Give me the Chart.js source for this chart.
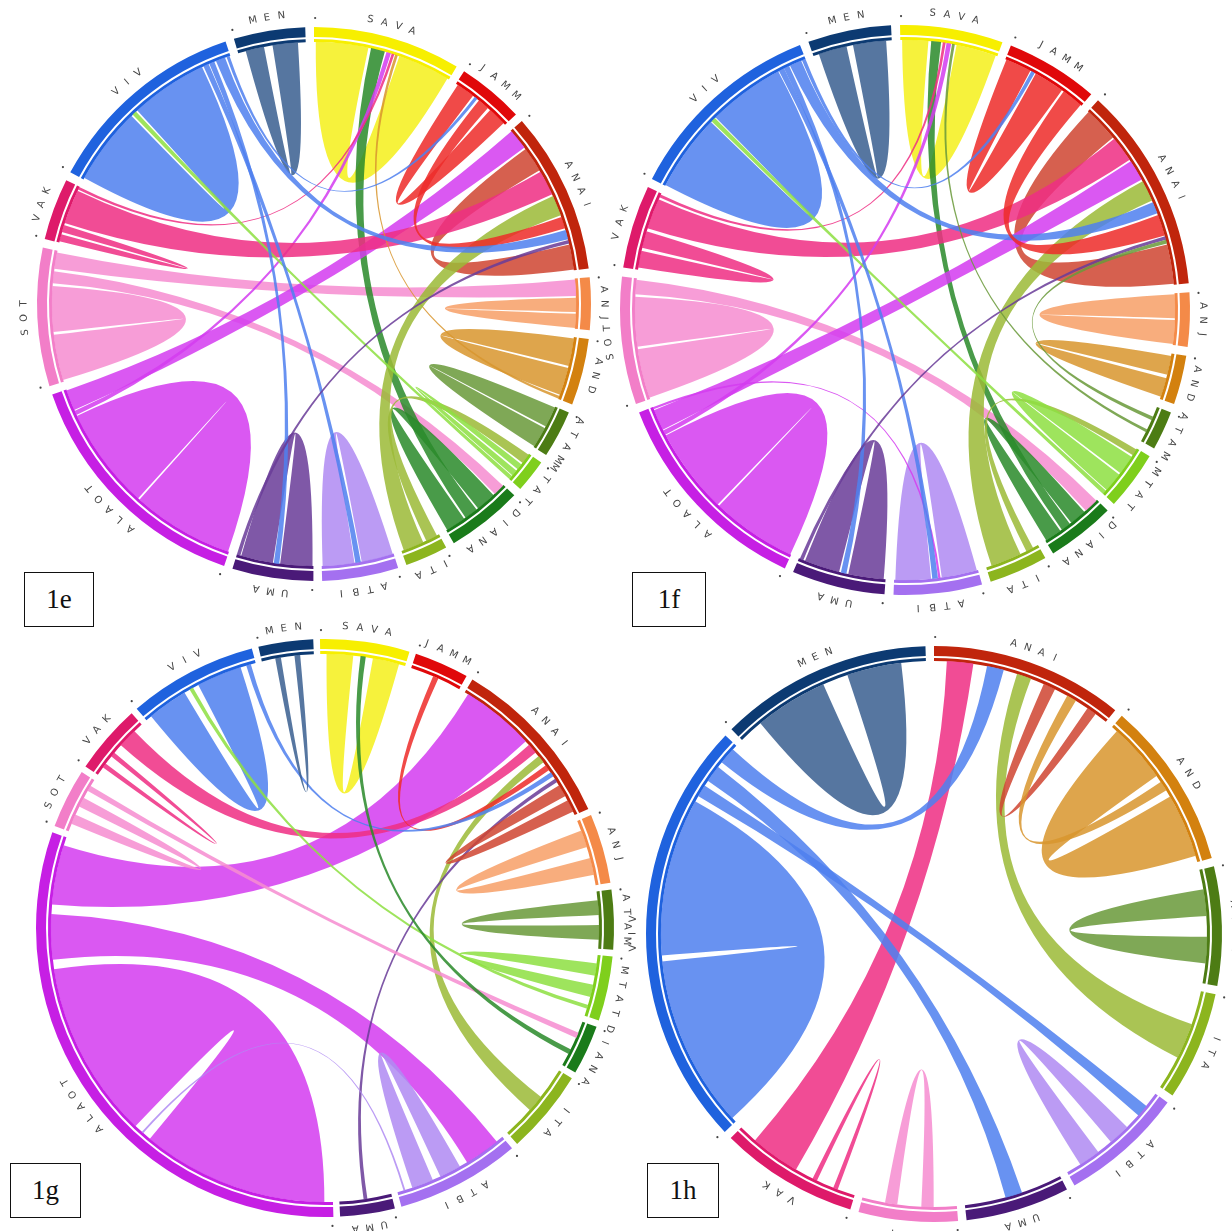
<!DOCTYPE html>
<html>
<head>
<meta charset="utf-8">
<script src="https://cdn.jsdelivr.net/npm/chart.js@4.4.1/dist/chart.umd.min.js"></script>
<style>
  html, body { margin: 0; padding: 0; background: #fff; }
  body { position: relative; width: 1232px; height: 1231px; overflow: hidden; }
  canvas { position: absolute; }
  .tag {
    position: absolute; box-sizing: border-box; border: 1.6px solid #111;
    font-family: "Liberation Serif", "DejaVu Serif", serif; font-size: 27px; color: #111;
    display: flex; align-items: center; justify-content: center; background: #fff;
  }
</style>
</head>
<body>
<script>
// ---- sectors (clockwise), sector widths and links [from, to, value at "from", value at "to"] ----

const sectors_e = ['SAVA','JAMM','ANAI','ANJ','AND','ATAM','MTAT','DIANA','ITA','ATBI','UMA','ALAOT','SOT','VAK','VIV','MEN'];
const widths_e  = [31, 14, 34, 11, 14, 10, 7, 16, 9, 16, 17, 52, 29, 13, 43, 15];
const links_e = [
  ['SAVA','SAVA',12], ['MEN','MEN',6,4.5], ['SOT','SOT',10.5], ['SOT','DIANA',3], ['SOT','ANJ',4],
  ['DIANA','SAVA',3.5], ['DIANA','DIANA',5], ['ALAOT','ALAOT',23], ['ALAOT','SAVA',1], ['ALAOT','ANAI',5],
  ['ANAI','ANAI',6], ['VAK','VAK',2], ['VAK','ANAI',8,6], ['VAK','SAVA',0.6], ['AND','AND',6.5],
  ['AND','SAVA',0.6], ['ITA','MTAT',3], ['MTAT','MTAT',2], ['ITA','ANAI',5], ['JAMM','ANAI',3],
  ['JAMM','JAMM',4.5], ['ATBI','ATBI',7.4], ['UMA','UMA',7.5], ['VIV','VIV',17.5], ['MTAT','VIV',1],
  ['VIV','ATBI',1.2], ['VIV','UMA',1.2], ['VIV','ANAI',2.5], ['VIV','JAMM',0.7], ['UMA','ANAI',0.8],
  ['ANJ','ANJ',3.5], ['ATAM','ATAM',5]
];

const sectors_f = ['SAVA','JAMM','ANAI','ANJ','AND','ATAM','MTAT','DIANA','ITA','ATBI','UMA','ALAOT','SOT','VAK','VIV','MEN'];
const widths_f  = [21, 19, 42, 11, 10, 8, 12, 14, 12, 18, 19, 44, 26, 17, 41, 17];
const links_f = [
  ['SAVA','SAVA',9,6], ['MEN','MEN',7.5,6.5], ['SOT','SOT',11], ['SOT','DIANA',3.5], ['DIANA','SAVA',2.5],
  ['DIANA','DIANA',4], ['ANAI','ANAI',9,8], ['VAK','VAK',4], ['VAK','ANAI',7,6], ['VAK','SAVA',0.6],
  ['ATBI','ATBI',8], ['UMA','UMA',8], ['ALAOT','ALAOT',19], ['ALAOT','SAVA',1], ['ALAOT','ANAI',5],
  ['ALAOT','ATBI',0.5], ['ITA','MTAT',2], ['ITA','ANAI',7,5], ['AND','AND',4.5], ['ANJ','ANJ',5.5],
  ['MTAT','MTAT',5], ['JAMM','JAMM',7,6], ['VIV','VIV',17], ['MTAT','VIV',1],
  ['VIV','ATBI',1.2], ['VIV','UMA',1.2], ['VIV','ANAI',3], ['VIV','JAMM',0.8], ['JAMM','ANAI',5],
  ['UMA','ANAI',0.8], ['ATAM','ANAI',0.8], ['ATAM','SAVA',0.6]
];

const sectors_g = ['SAVA','JAMM','ANAI','ANJ','ATAM','MTAT','DIANA','ITA','ATBI','UMA','ALAOT','SOT','VAK','VIV','MEN'];
const widths_g  = [18, 11, 35, 14, 12, 13, 10, 17, 25, 11, 111, 12, 14, 26, 11];
const links_g = [
  ['ALAOT','ALAOT',38,40], ['ALAOT','ATBI',10,8], ['ALAOT','ANAI',13,16], ['VAK','VAK',1], ['VAK','ANAI',4.5,2.5],
  ['ITA','ANAI',4,2], ['JAMM','ANAI',1.2], ['VIV','VIV',10,9], ['MTAT','MTAT',3], ['MTAT','VIV',0.8],
  ['VIV','ANAI',1], ['UMA','ANAI',0.8], ['ANAI','ANAI',3], ['ATBI','ATBI',5], ['ATBI','ALAOT',0.4],
  ['SAVA','SAVA',6], ['SOT','SOT',2.5], ['SOT','DIANA',1.2], ['DIANA','SAVA',1.5], ['MEN','MEN',1.2],
  ['ANJ','ANJ',4], ['ATAM','ATAM',3.5]
];

const sectors_h = ['ANAI','AND','ATAM','ITA','ATBI','UMA','SOT','VAK','VIV','MEN'];
const widths_h  = [39, 34, 24, 22, 25, 21, 20, 28, 87, 43];
const links_h = [
  ['VAK','VAK',1], ['VAK','ANAI',11,6], ['VIV','VIV',34,37], ['VIV','ATBI',3], ['VIV','UMA',4],
  ['VIV','ANAI',4], ['ITA','ANAI',8,3.5], ['ANAI','ANAI',2.5,3], ['AND','ANAI',2.5], ['AND','AND',14,13],
  ['ATBI','ATBI',5], ['SOT','SOT',3], ['ATAM','ATAM',6], ['MEN','MEN',12,16]
];

// ---- colours: outer grid track and ribbon fill for each sector ----
const trackColor = {
  SAVA:'#f7ef00', JAMM:'#e0080a', ANAI:'#c0250c', ANJ:'#f48a48', AND:'#d3810f', ATAM:'#4d7c14',
  MTAT:'#7fcf1c', DIANA:'#1a7b1a', ITA:'#8cb51e', ATBI:'#a470f0', UMA:'#4a1a78', ALAOT:'#c61fe4',
  SOT:'#f27ec8', VAK:'#de1a6a', VIV:'#1f62de', MEN:'#0c3a72'
};
const ribbonColor = {
  SAVA:'#f4f01c', JAMM:'#ee2c2a', ANAI:'#cf4632', ANJ:'#f7a068', AND:'#d9962f', ATAM:'#6a9a3a',
  MTAT:'#8ee042', DIANA:'#2b8a2b', ITA:'#9cba38', ATBI:'#b08af2', UMA:'#6a3c98', ALAOT:'#d43cf0',
  SOT:'#f68dd0', VAK:'#ef2f83', VIV:'#4f80ef', MEN:'#3a5f90'
};

// ---- panel placement ----
const panels = [
  { sectors: sectors_e, widths: widths_e, links: links_e, cx: 314, cy: 304, R: 277, rot: 0,  tag: '1e', box: [24, 572, 70, 55] },
  { sectors: sectors_f, widths: widths_f, links: links_f, cx: 905, cy: 310, R: 285, rot: -1, tag: '1f', box: [632, 572, 74, 55] },
  { sectors: sectors_g, widths: widths_g, links: links_g, cx: 325, cy: 928, R: 289, rot: -1, tag: '1g', box: [10, 1163, 71, 55] },
  { sectors: sectors_h, widths: widths_h, links: links_h, cx: 934, cy: 934, R: 288, rot: 0,  tag: '1h', box: [647, 1163, 72, 55] }
];

const PAD = 34;          // room round the ring for the sector names
const TRACK = 10, GAP_R = 2, STRIPE = 3;

// Place every link end inside its sector: incoming ends first, then outgoing ends,
// each group in the order the links are listed; spare room is spread between ends.
function placeEnds(sectors, widths, links) {
  const groups = sectors.map(() => ({ inc: [], out: [] }));
  links.forEach((lk, k) => {
    const si = sectors.indexOf(lk[0]), ti = sectors.indexOf(lk[1]);
    groups[si].out.push({ k, side: 's', v: lk[2] });
    groups[ti].inc.push({ k, side: 't', v: lk[3] != null ? lk[3] : lk[2] });
  });
  const ends = links.map(() => ({}));
  groups.forEach((g, i) => {
    const all = g.inc.concat(g.out);
    if (!all.length) return;
    const sum = all.reduce((a, e) => a + e.v, 0);
    const W = widths[i];
    let pad = 0, scale = 1;
    if (sum < W) pad = (W - sum) / (all.length + 1); else scale = W / sum;
    let pos = pad;
    all.forEach(e => {
      const w = e.v * scale;
      const inset = w > 1.2 ? 0.2 : 0;
      ends[e.k][e.side] = { i, from: pos + inset, to: pos + w - inset };
      pos += w + pad;
    });
  });
  return ends;
}

const chordPlugin = {
  id: 'chords',
  afterDatasetsDraw(chart, args, opts) {
    const { sectors, widths, links } = opts;
    const ctx = chart.ctx;
    const band = chart.getDatasetMeta(0).data;
    const stripe = chart.getDatasetMeta(2).data;
    const cx = band[0].x, cy = band[0].y;
    const R = band[0].outerRadius;
    const r = stripe[0].innerRadius + 0.3;
    const ang = (i, p) => {
      const el = band[2 * i];
      return el.startAngle + (p / widths[i]) * (el.endAngle - el.startAngle);
    };
    const ends = placeEnds(sectors, widths, links);

    ctx.save();
    ctx.globalAlpha = 0.86;
    links.forEach((lk, k) => {
      const s = ends[k].s, t = ends[k].t;
      const s0 = ang(s.i, s.from), s1 = ang(s.i, s.to);
      const t0 = ang(t.i, t.from), t1 = ang(t.i, t.to);
      ctx.fillStyle = ribbonColor[lk[0]];
      ctx.beginPath();
      ctx.arc(cx, cy, r, s0, s1);
      ctx.quadraticCurveTo(cx, cy, cx + r * Math.cos(t0), cy + r * Math.sin(t0));
      ctx.arc(cx, cy, r, t0, t1);
      ctx.quadraticCurveTo(cx, cy, cx + r * Math.cos(s0), cy + r * Math.sin(s0));
      ctx.closePath();
      ctx.fill();
    });
    ctx.restore();

    // sector names, letter by letter along the ring, plus a small mark at each sector start
    ctx.save();
    ctx.font = '10px "DejaVu Sans", sans-serif';
    ctx.fillStyle = '#444';
    ctx.textAlign = 'center';
    ctx.textBaseline = 'middle';
    const rl = R + 13;
    sectors.forEach((name, i) => {
      const el = band[2 * i];
      const mid = (el.startAngle + el.endAngle) / 2;
      const step = 14.5 / rl;
      for (let j = 0; j < name.length; j++) {
        const a = mid + (j - (name.length - 1) / 2) * step;
        ctx.save();
        ctx.translate(cx + rl * Math.cos(a), cy + rl * Math.sin(a));
        ctx.rotate(a + Math.PI / 2);
        ctx.fillText(name[j], 0, 0);
        ctx.restore();
      }
      const a0 = el.startAngle + 0.004;
      ctx.beginPath();
      ctx.arc(cx + (R + 9) * Math.cos(a0), cy + (R + 9) * Math.sin(a0), 1.1, 0, Math.PI * 2);
      ctx.fill();
    });
    ctx.restore();
  }
};

panels.forEach(p => {
  const size = 2 * (p.R + PAD);
  const cv = document.createElement('canvas');
  cv.width = size; cv.height = size;
  cv.style.left = (p.cx - p.R - PAD) + 'px';
  cv.style.top = (p.cy - p.R - PAD) + 'px';
  cv.style.width = size + 'px'; cv.style.height = size + 'px';
  document.body.appendChild(cv);

  const total = p.widths.reduce((a, b) => a + b, 0);
  const gap = (360 - total) / p.widths.length;
  const values = [], labels = [], track = [], blank = [];
  p.sectors.forEach((s, i) => {
    values.push(p.widths[i], gap);
    labels.push(s, '');
    track.push(trackColor[s], 'rgba(0,0,0,0)');
    blank.push('rgba(0,0,0,0)', 'rgba(0,0,0,0)');
  });

  new Chart(cv, {
    type: 'doughnut',
    data: {
      labels,
      datasets: [
        { data: values, backgroundColor: track, borderWidth: 0, weight: TRACK },
        { data: values, backgroundColor: blank, borderWidth: 0, weight: GAP_R },
        { data: values, backgroundColor: track, borderWidth: 0, weight: STRIPE }
      ]
    },
    options: {
      responsive: false,
      animation: false,
      events: [],
      rotation: p.rot,
      radius: p.R,
      cutout: p.R - (TRACK + GAP_R + STRIPE),
      layout: { padding: PAD },
      plugins: {
        legend: { display: false },
        tooltip: { enabled: false },
        chords: { sectors: p.sectors, widths: p.widths, links: p.links }
      }
    },
    plugins: [chordPlugin]
  });

  const tag = document.createElement('div');
  tag.className = 'tag';
  tag.textContent = p.tag;
  tag.style.left = p.box[0] + 'px';
  tag.style.top = p.box[1] + 'px';
  tag.style.width = p.box[2] + 'px';
  tag.style.height = p.box[3] + 'px';
  document.body.appendChild(tag);
});
</script>
</body>
</html>
